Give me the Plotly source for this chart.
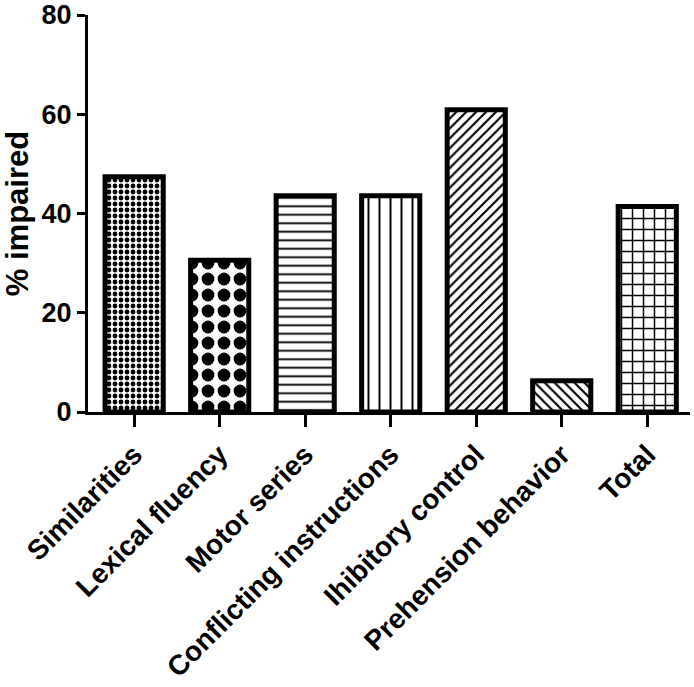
import plotly.graph_objects as go

categories = ["Similarities", "Lexical fluency", "Motor series", "Conflicting instructions",
              "Ihibitory control", "Prehension behavior", "Total"]
values = [47.4, 30.6, 43.6, 43.6, 60.9, 6.3, 41.4]
shapes = [".", ".", "-", "|", "/", "\\", "+"]
sizes = [6, 16, 8.5, 11, 7, 7, 11]
solidities = [0.5, 0.5, 0.22, 0.18, 0.3, 0.3, 0.25]
y_ticks = [0, 20, 40, 60, 80]

font_family = "Liberation Sans, Arial, sans-serif"

fig = go.Figure()
fig.add_trace(go.Bar(
    x=categories,
    y=values,
    width=0.68,
    marker=dict(
        color="white",
        line=dict(color="black", width=5),
        pattern=dict(shape=shapes, size=sizes, solidity=solidities,
                     fgcolor="black", bgcolor="white", fillmode="replace"),
    ),
    showlegend=False,
))

fig.update_layout(
    width=694, height=687,
    margin=dict(l=88, r=4, t=15, b=275, autoexpand=False),
    plot_bgcolor="white", paper_bgcolor="white",
    font=dict(family=font_family, color="black"),
)
fig.update_xaxes(
    range=[-0.54, 6.5],
    automargin=False,
    showline=True, linecolor="black", linewidth=3,
    ticks="outside", ticklen=12, tickwidth=3, tickcolor="black",
    tickangle=-45,
    tickfont=dict(family=font_family, size=28, weight="bold", color="black"),
    showgrid=False, zeroline=False,
)
fig.update_yaxes(
    range=[0, 80],
    tickvals=y_ticks,
    automargin=False,
    ticklabeloverflow="allow",
    showline=True, linecolor="black", linewidth=3,
    ticks="outside", ticklen=8, tickwidth=3, tickcolor="black",
    tickfont=dict(family=font_family, size=27, weight="bold", color="black"),
    title=dict(text="% impaired", font=dict(family=font_family, size=31, weight="bold", color="black"),
               standoff=14),
    showgrid=False, zeroline=False,
)

fig.write_html("out.html", config={"displayModeBar": False},
               post_script="document.body.style.margin='0';")
